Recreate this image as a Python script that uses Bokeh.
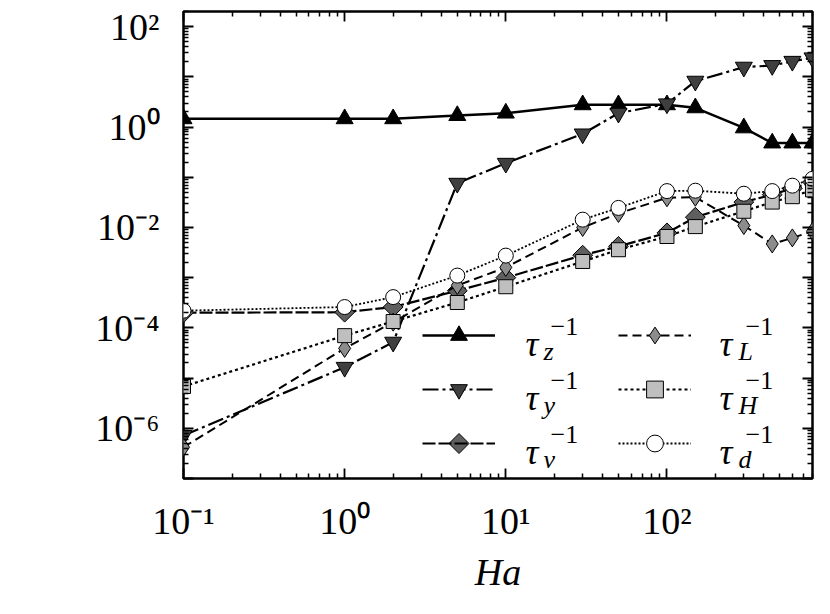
import numpy as np
from bokeh.plotting import figure
from bokeh.models import (Range1d, FixedTicker, LogAxis, Legend, LegendItem,
                          Label, CustomJSTickFormatter, PolyAnnotation)
from bokeh.embed import file_html
from bokeh.resources import INLINE

# ---------------- data ----------------
ha = [0.1, 1, 2, 5, 10, 30, 50, 100, 150, 300, 450, 600, 800]
tau_z = [1.46, 1.46, 1.46, 1.69, 1.89, 2.77, 2.77, 2.77, 2.41, 0.96, 0.48, 0.48, 0.48]
tau_y = [7.2e-7, 1.64e-5, 5.2e-5, 0.076, 0.19, 0.73, 1.89, 2.9, 8.2, 15.6, 16.8, 20.4, 23.9]
tau_nu = [2.0e-4, 2.05e-4, 2.6e-4, 5.5e-4, 1.0e-3, 2.8e-3, 4.2e-3, 7.8e-3, 0.016, 0.032, 0.045, 0.06, 0.08]
tau_L = [4.2e-7, 3.9e-5, 1.3e-4, 7.0e-4, 1.6e-3, 0.010, 0.019, 0.039, 0.040, 0.0109, 4.7e-3, 6.2e-3, 8.4e-3]
tau_H = [6.8e-6, 7.0e-5, 1.34e-4, 3.2e-4, 6.6e-4, 2.1e-3, 3.6e-3, 6.6e-3, 0.0104, 0.021, 0.032, 0.041, 0.056]
tau_d = [2.2e-4, 2.6e-4, 4.1e-4, 1.1e-3, 2.75e-3, 0.0143, 0.0245, 0.053, 0.054, 0.047, 0.053, 0.068, 0.093]

x_major = [0.1, 1.0, 10.0, 100.0]
x_labels = ["10\u207b\u00b9", "10\u2070", "10\u00b9", "10\u00b2"]
y_major = [1e-7, 1e-6, 1e-5, 1e-4, 1e-3, 1e-2, 1e-1, 1.0, 10.0, 100.0]
y_labels = ["", "10\u207b\u2076", "", "10\u207b\u2074", "", "10\u207b\u00b2", "", "10\u2070", "", "10\u00b2"]
x_label = "Ha"
legend_main = "\u03c4"
legend_sub = ["z", "y", "\u03bd", "L", "H", "d"]
legend_sup = "\u22121"

x_minor = [k * 10.0 ** n for n in range(-1, 3) for k in range(2, 10) if k * 10.0 ** n <= 800]
y_minor = [k * 10.0 ** n for n in range(-7, 3) for k in range(2, 10) if k * 10.0 ** n <= 200]

FONT = "Liberation Serif"

p = figure(width=822, height=606, x_axis_type="log", y_axis_type="log",
           x_range=Range1d(0.1, 800), y_range=Range1d(1e-7, 2e2),
           output_backend="svg", toolbar_location=None,
           min_border_left=183, min_border_right=10, min_border_top=11, min_border_bottom=128)
p.xgrid.visible = False
p.ygrid.visible = False
p.outline_line_color = "black"
p.outline_line_width = 2.5
p.background_fill_color = "white"
p.border_fill_color = "white"


def style_axis(ax):
    ax.axis_line_color = None
    ax.major_tick_in = 10
    ax.major_tick_out = 0
    ax.minor_tick_in = 5
    ax.minor_tick_out = 0
    ax.major_tick_line_width = 1.8
    ax.minor_tick_line_width = 1.5
    ax.major_tick_line_color = "black"
    ax.minor_tick_line_color = "black"
    ax.major_label_text_font = FONT
    ax.major_label_text_font_size = "38px"
    ax.major_label_text_color = "black"


xa = p.xaxis[0]
xa.ticker = FixedTicker(ticks=x_major, minor_ticks=x_minor)
xa.major_label_overrides = dict(zip(x_major, x_labels))
style_axis(xa)
xa.major_label_standoff = 21
xa.axis_label = x_label
xa.axis_label_text_font = FONT
xa.axis_label_text_font_style = "italic"
xa.axis_label_text_font_size = "38px"
xa.axis_label_standoff = 6
xa.axis_label_text_color = "black"

ya = p.yaxis[0]
ya.ticker = FixedTicker(ticks=y_major, minor_ticks=y_minor)
ya.major_label_overrides = dict(zip(y_major, y_labels))
style_axis(ya)
ya.major_label_standoff = 24

top = LogAxis(ticker=FixedTicker(ticks=x_major, minor_ticks=x_minor),
              formatter=CustomJSTickFormatter(code="return ''"))
style_axis(top)
top.major_label_standoff = 0
p.add_layout(top, "above")
right = LogAxis(ticker=FixedTicker(ticks=y_major, minor_ticks=y_minor),
                formatter=CustomJSTickFormatter(code="return ''"))
style_axis(right)
right.major_label_standoff = 0
p.add_layout(right, "right")

NU_FILL = "#5f5f5f"
series = [
    (tau_z, "solid", 2.5, "triangle", "black", 17, 0.0),
    (tau_y, "16 4 3 4", 2.2, "inverted_triangle", "#3f3f3f", 17, 0.0),
    (tau_nu, "13 3", 2.2, "square", NU_FILL, 14, np.pi / 4),
    (tau_L, "9 5", 2.0, "diamond", "#8c8c8c", 18, 0.0),
    (tau_H, "3 3", 2.2, "square", "#bfbfbf", 14, 0.0),
    (tau_d, "2 2", 1.8, "circle", "white", 15, 0.0),
]

items = []
for ys, dash, lw, mk, fc, sz, ang in series:
    rl = p.line(ha, ys, line_color="black", line_width=lw, line_dash=dash)
    rs = p.scatter(ha, ys, marker=mk, size=sz, angle=ang, fill_color=fc,
                   line_color="black", line_width=1)
    items.append([rl, rs])
# the rotated-square key of tau_nu is drawn separately below (legend ignores marker angle)
items[2] = [items[2][0]]

GH = 42
SP = 12
leg_kw = dict(orientation="vertical", glyph_width=73, glyph_height=GH, label_height=GH,
              spacing=SP, padding=0, margin=0, label_standoff=0, label_width=10,
              border_line_alpha=0, background_fill_alpha=0,
              label_text_font=FONT, label_text_font_size="20px", label_text_color="black")
LEG_X = [239, 435]
LEG_Y = 14
leg1 = Legend(items=[LegendItem(label=" ", renderers=items[i]) for i in range(3)],
              location=(LEG_X[0], LEG_Y), **leg_kw)
leg2 = Legend(items=[LegendItem(label=" ", renderers=items[i]) for i in range(3, 6)],
              location=(LEG_X[1], LEG_Y), **leg_kw)
p.add_layout(leg1)
p.add_layout(leg2)

# legend key for tau_nu (third row of first column)
cx = LEG_X[0] + 73 / 2
cy = LEG_Y + GH / 2
h = 10
p.add_layout(PolyAnnotation(xs=[cx, cx + h, cx, cx - h], ys=[cy + h, cy, cy - h, cy],
                            xs_units="screen", ys_units="screen",
                            fill_color=NU_FILL, fill_alpha=1.0,
                            line_color="black", line_width=1, line_alpha=1.0))

# legend texts: tau with sub- and superscripts
row_y = [LEG_Y + GH / 2 + (GH + SP) * k for k in (2, 1, 0)]  # rows top to bottom
col_tau_x = [342, 536]
col_sub_x = [360, 555]
col_sup_x = [367, 562]
for c in range(2):
    for r in range(3):
        k = c * 3 + r
        p.add_layout(Label(x=col_tau_x[c], y=row_y[r] - 8, x_units="screen", y_units="screen",
                           text=legend_main, text_font=FONT, text_font_style="italic",
                           text_font_size="36px", text_baseline="alphabetic", text_color="black"))
        p.add_layout(Label(x=col_sup_x[c], y=row_y[r] + 9, x_units="screen", y_units="screen",
                           text=legend_sup, text_font=FONT, text_font_size="26px",
                           text_baseline="alphabetic", text_color="black"))
        p.add_layout(Label(x=col_sub_x[c], y=row_y[r] - 16, x_units="screen", y_units="screen",
                           text=legend_sub[k], text_font=FONT, text_font_style="italic",
                           text_font_size="26px", text_baseline="alphabetic", text_color="black"))

open("out.html", "w").write(file_html(p, INLINE))
